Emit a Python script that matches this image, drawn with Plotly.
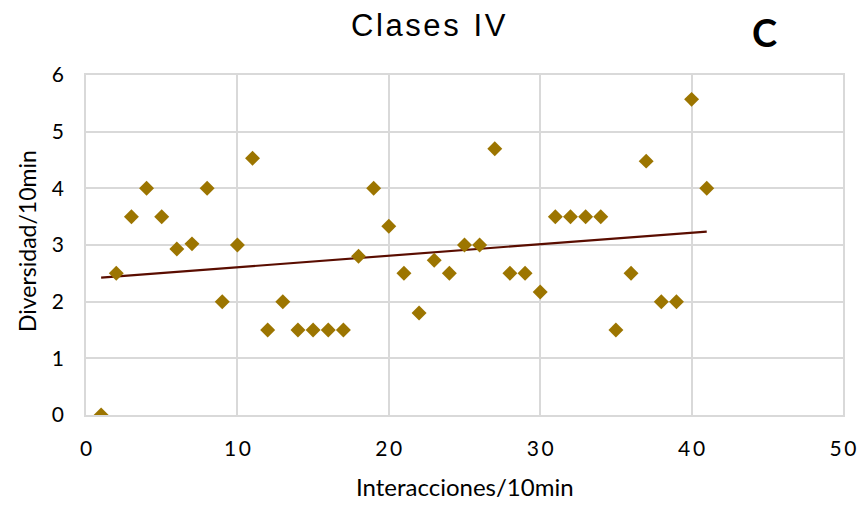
import numpy as np
import plotly.graph_objects as go

interacciones = list(range(1, 42))
diversidad = [0, 2.5, 3.5, 4, 3.5, 2.93, 3.02, 4, 2, 3,
              4.53, 1.5, 2, 1.5, 1.5, 1.5, 1.5, 2.8, 4, 3.33,
              2.5, 1.8, 2.73, 2.5, 3, 3, 4.7, 2.5, 2.5, 2.17,
              3.5, 3.5, 3.5, 3.5, 1.5, 2.5, 4.48, 2, 2, 5.57, 4]
x_ticks = [0, 10, 20, 30, 40, 50]
y_ticks = [0, 1, 2, 3, 4, 5, 6]

slope, intercept = np.polyfit(interacciones, diversidad, 1)
tx = [min(interacciones), max(interacciones)]
ty = [slope * v + intercept for v in tx]

fig = go.Figure()
fig.add_trace(go.Scatter(x=tx, y=ty, mode="lines",
                         line=dict(color="#5A0D00", width=2.2),
                         hoverinfo="skip", showlegend=False))
fig.add_trace(go.Scatter(x=interacciones, y=diversidad, mode="markers",
                         marker=dict(symbol="diamond", size=11.5, color="#9C7500",
                                     line=dict(width=0)),
                         showlegend=False))

font = "Lato, 'Open Sans', sans-serif"
L, R, T, B = 86, 18, 75, 91
W, H = 861, 506
pw = W - L - R
ph = H - T - B

fig.update_layout(
    width=W, height=H,
    margin=dict(l=L, r=R, t=T, b=B, autoexpand=False),
    paper_bgcolor="white", plot_bgcolor="white",
    font=dict(family=font, color="#000000"),
    xaxis=dict(range=[0, 50], tickvals=x_ticks, ticktext=["\u2009".join(str(t)) for t in x_ticks],
               showgrid=True, gridcolor="#D9D9D9", gridwidth=1.6, automargin=False,
               zeroline=False, showline=True, linecolor="#D9D9D9", linewidth=1.6,
               mirror=True, ticks="", tickfont=dict(size=21, family=font),
               ticklabelstandoff=14),
    yaxis=dict(range=[0, 6], tickvals=y_ticks, automargin=False,
               showgrid=True, gridcolor="#D9D9D9", gridwidth=1.6,
               zeroline=False, showline=True, linecolor="#D9D9D9", linewidth=1.6,
               mirror=True, ticks="", tickfont=dict(size=21, family=font),
               ticklabelstandoff=16),
    annotations=[
        dict(text="C\u200al\u200aa\u200as\u200ae\u200as\u2009 I\u200aV",
             x=(428 - L) / pw, y=(H - B - 25) / ph, xref="paper", yref="paper",
             xanchor="center", yanchor="middle", showarrow=False,
             font=dict(size=31, family="'Liberation Sans', Arial, sans-serif")),
        dict(text="<b>C</b>", x=(764 - L) / pw, y=(H - B - 32) / ph,
             xref="paper", yref="paper", xanchor="center", yanchor="middle",
             showarrow=False, font=dict(size=38, family=font)),
        dict(text="Interacciones/10min", x=(465 - L) / pw, y=(H - B - 486) / ph,
             xref="paper", yref="paper", xanchor="center", yanchor="middle",
             showarrow=False, font=dict(size=24, family=font)),
        dict(text="Diversidad/10min", x=(27 - L) / pw, y=(H - B - 241) / ph,
             xref="paper", yref="paper", xanchor="center", yanchor="middle",
             textangle=-90, showarrow=False, font=dict(size=23, family=font)),
    ],
)

fig.write_html("out.html")
